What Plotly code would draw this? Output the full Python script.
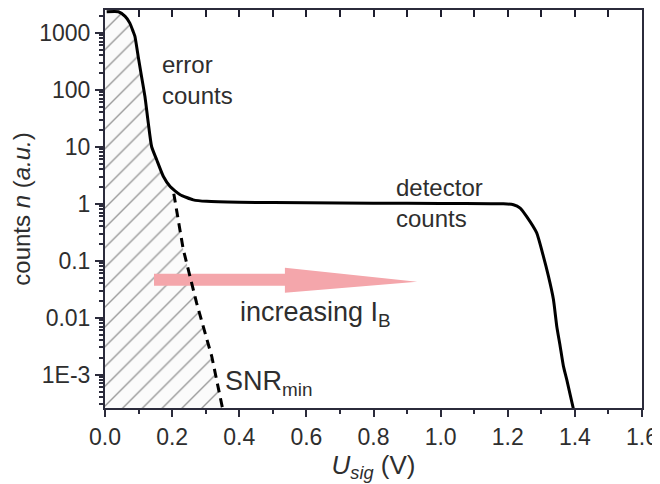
import plotly.graph_objects as go

# ---- data ----
curve_x = [0.005, 0.040, 0.060, 0.074, 0.084, 0.089, 0.099, 0.109, 0.119, 0.129,
           0.139, 0.154, 0.174, 0.194, 0.224, 0.263, 0.303, 0.40, 0.60, 0.80,
           1.00, 1.15, 1.187, 1.217, 1.237, 1.256, 1.286, 1.306, 1.321, 1.336,
           1.346, 1.356, 1.366, 1.376, 1.395, 1.400]
curve_y = [2340, 2340, 1940, 1480, 1050, 870, 380, 170, 76, 26,
           10, 5.9, 3.0, 2.0, 1.44, 1.17, 1.10, 1.06, 1.04, 1.02,
           1.01, 1.0, 1.0, 0.96, 0.84, 0.60, 0.31, 0.12, 0.054, 0.021,
           0.0071, 0.0032, 0.0014, 0.00081, 0.00026, 0.0002]

snr_x = [0.205, 0.233, 0.273, 0.318, 0.350, 0.352]
snr_y = [1.5, 0.16, 0.018, 0.0021, 0.00026, 0.0002]

arrow_x = [0.146, 0.536, 0.536, 0.930, 0.536, 0.536, 0.146]
arrow_y = [0.0591, 0.0591, 0.0753, 0.0429, 0.0275, 0.0364, 0.0364]

ytick_vals = [1e-3, 1e-2, 1e-1, 1, 10, 100, 1000]
ytick_text = ["1E-3", "0.01", "0.1", "1", "10", "100", "1000"]
yminor_vals = [m * 10.0 ** e for e in range(-4, 4) for m in range(2, 10)]
xtop_vals = [i / 10 for i in range(0, 17)]

x_range = [0.0, 1.6]
y_log_range = [-3.585, 3.40]
y_floor = 1e-4

# hatched region: left axis, error curve down to SNR_min line, dashed line down
err_part = [(x, y) for x, y in zip(curve_x, curve_y) if x < snr_x[0]]
hatch_x = [0.0, 0.0] + [p[0] for p in err_part] + snr_x + [snr_x[-1]]
hatch_y = [y_floor, curve_y[0]] + [p[1] for p in err_part] + snr_y + [y_floor]

TXT = "#2e2e2e"
AX = "#2b2b3b"
FONT = "Liberation Sans, Arial, sans-serif"

fig = go.Figure()

fig.add_trace(go.Scatter(
    x=hatch_x, y=hatch_y, mode="lines", fill="toself",
    line=dict(width=0), fillcolor="rgba(0,0,0,0)",
    fillpattern=dict(shape="/", fgcolor="#3a3a3a", bgcolor="#fbfbfb",
                     size=14, solidity=0.1),
    hoverinfo="skip", showlegend=False))

fig.add_trace(go.Scatter(
    x=arrow_x, y=arrow_y, mode="lines", fill="toself",
    line=dict(width=0, color="#f4a6ab"), fillcolor="#f4a6ab",
    hoverinfo="skip", showlegend=False))

fig.add_trace(go.Scatter(
    x=snr_x, y=snr_y, mode="lines", xaxis="x2",
    line=dict(color="black", width=3, dash="9px,6px"),
    showlegend=False))

fig.add_trace(go.Scatter(
    x=curve_x, y=curve_y, mode="lines",
    line=dict(color="black", width=3, shape="spline", smoothing=0.5),
    showlegend=False))

# the page body has an 8px default margin, so the figure is 8px smaller
fig.update_layout(
    width=652, height=476, autosize=False,
    margin=dict(l=97, r=18, t=2, b=76),
    paper_bgcolor="white", plot_bgcolor="white",
    font=dict(family=FONT, color=TXT, size=22),
    xaxis=dict(
        range=x_range, dtick=0.2, tick0=0, tickformat=".1f",
        ticks="outside", ticklen=7, tickwidth=2, tickcolor=AX,
        showline=True, linecolor=AX, linewidth=2, mirror=True,
        showgrid=False, zeroline=False, automargin=False,
        minor=dict(dtick=0.1, tick0=0, ticks="outside", ticklen=4, tickcolor=AX, tickwidth=2),
        tickfont=dict(size=23, color=TXT),
        title=dict(text="<i>U</i><sub><i>sig</i></sub> (V)", font=dict(size=26, color=TXT),
                   standoff=2),
    ),
    xaxis2=dict(
        range=x_range, overlaying="x", side="top", anchor="y",
        tickmode="array", tickvals=xtop_vals, ticktext=[""] * len(xtop_vals),
        ticks="inside", ticklen=7, tickwidth=2, tickcolor="#1f1f2f",
        showticklabels=True, showline=False, showgrid=False, zeroline=False,
        automargin=False,
    ),
    yaxis=dict(
        type="log", range=y_log_range,
        tickmode="array", tickvals=ytick_vals, ticktext=ytick_text,
        ticks="outside", ticklen=8, tickwidth=2, tickcolor=AX,
        showline=True, linecolor=AX, linewidth=2, mirror=True,
        showgrid=False, zeroline=False, automargin=False,
        minor=dict(tickmode="array", tickvals=yminor_vals, ticks="outside",
                   ticklen=4, tickcolor=AX, tickwidth=1.5),
        tickfont=dict(size=23, color=TXT),
        title=dict(text="counts <i>n</i> (<i>a.u.</i>)", font=dict(size=24, color=TXT),
                   standoff=8),
    ),
    annotations=[
        dict(text="error<br>counts", x=0.165, xref="x", y=0.824, yref="paper",
             xanchor="left", yanchor="middle", align="left", showarrow=False,
             font=dict(size=24, color=TXT)),
        dict(text="detector<br>counts", x=0.862, xref="x", y=0.515, yref="paper",
             xanchor="left", yanchor="middle", align="left", showarrow=False,
             font=dict(size=24, color=TXT)),
        dict(text="increasing I<sub>B</sub>", x=0.395, xref="x", y=0.236, yref="paper",
             xanchor="left", yanchor="middle", align="left", showarrow=False,
             font=dict(size=27, color=TXT)),
        dict(text="SNR<sub>min</sub>", x=0.352, xref="x", y=0.063, yref="paper",
             xanchor="left", yanchor="middle", align="left", showarrow=False,
             font=dict(size=27, color=TXT)),
    ],
)

fig.write_html("out.html")
